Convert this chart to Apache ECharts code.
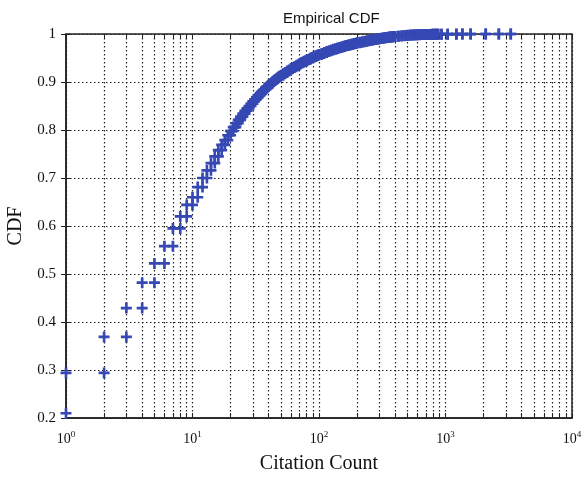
<!DOCTYPE html>
<html>
<head>
<meta charset="utf-8">
<script src="https://cdn.jsdelivr.net/npm/echarts@6/dist/echarts.min.js"></script>
<style>
  html, body { margin: 0; padding: 0; background: #fff; }
  #main { width: 585px; height: 481px; }
</style>
</head>
<body>
<div id="main"></div>
<script>
// citation counts where the empirical CDF steps, and the CDF value after each step
const cdfStart = 0.21   // share of papers with 0 citations
const counts = [
  1, 2, 3, 4, 5, 6, 7, 8, 9, 10,
  11, 12, 13, 14, 15, 16, 17, 18, 19, 20,
  21, 22, 23, 24, 25, 26, 27, 28, 29, 30,
  31, 32, 33, 34, 35, 36, 37, 38, 39, 40,
  41, 42, 43, 44, 45, 46, 47, 48, 49, 50,
  52, 54, 56, 58, 60, 62, 64, 66, 68, 70,
  72, 74, 76, 78, 80, 82, 84, 86, 88, 90,
  92, 94, 96, 98, 100,
  105, 110, 115, 120, 125, 130, 135, 140, 145, 150,
  155, 160, 165, 170, 175, 180, 185, 190, 195, 200,
  210, 220, 230, 240, 250, 260, 270, 280, 290, 300,
  310, 320, 330, 340, 350, 360, 370, 380, 390, 400,
  425, 450, 475, 500, 525, 550, 575, 600, 625, 650,
  675, 700, 725, 750, 775, 800, 825, 850, 875,
  930, 1040, 1220, 1360, 1580, 2080, 2640, 3280
]
const cdf = [
  0.294, 0.369, 0.429, 0.482, 0.522, 0.558, 0.595, 0.620, 0.644, 0.660,
  0.681, 0.700, 0.716, 0.731, 0.745, 0.758, 0.769, 0.779, 0.789, 0.798,
  0.806, 0.814, 0.821, 0.828, 0.834, 0.840, 0.845, 0.850, 0.855, 0.860,
  0.864, 0.868, 0.872, 0.875, 0.879, 0.882, 0.885, 0.888, 0.891, 0.894,
  0.896, 0.898, 0.901, 0.903, 0.905, 0.907, 0.909, 0.911, 0.912, 0.914,
  0.917, 0.920, 0.923, 0.925, 0.928, 0.930, 0.932, 0.934, 0.936, 0.938,
  0.940, 0.941, 0.943, 0.944, 0.946, 0.947, 0.948, 0.950, 0.951, 0.952,
  0.953, 0.954, 0.955, 0.956, 0.9575,
  0.9595, 0.9614, 0.9633, 0.9650, 0.9667, 0.9681, 0.9694, 0.9707, 0.9719, 0.9731,
  0.9742, 0.9753, 0.9761, 0.9770, 0.9778, 0.9786, 0.9794, 0.9801, 0.9808, 0.9816,
  0.9827, 0.9838, 0.9849, 0.9859, 0.9869, 0.9877, 0.9884, 0.9891, 0.9898, 0.9905,
  0.9911, 0.9917, 0.9921, 0.9926, 0.9930, 0.9935, 0.9939, 0.9943, 0.9947, 0.9950,
  0.9957, 0.9963, 0.9969, 0.9975, 0.9977, 0.9980, 0.9982, 0.9984, 0.9987, 0.9988,
  0.9989, 0.9990, 0.9991, 0.9992, 0.9993, 0.9994, 0.9995, 0.9995, 0.9996,
  0.9996, 0.9997, 0.9998, 0.9998, 0.9999, 0.9999, 1, 1
]
const yTicks = [0.2, 0.3, 0.4, 0.5, 0.6, 0.7, 0.8, 0.9, 1]
const decades = [1, 10, 100, 1000, 10000]
const gridSteps = [1, 2, 3, 4, 5, 6, 7, 8, 9]

// stairs vertices: each step shows up at its count, before and after the jump
const points = []
counts.forEach((c, i) => {
  points.push([c, i === 0 ? cdfStart : cdf[i - 1]])
  points.push([c, cdf[i]])
})

// log positions of the 1..9 x 10^d grid lines, used on an overlay value axis
const gridPos = []
decades.slice(0, -1).forEach(d => {
  gridSteps.forEach(k => gridPos.push(Math.log10(k * d)))
})
gridPos.push(Math.log10(decades[decades.length - 1]))

const serif = '"Liberation Serif", "DejaVu Serif", serif'
const dotted = { color: '#222', width: 1.2, type: [1.5, 2.5] }
const plus = 'path://M3.8,0H6.2V3.8H10V6.2H6.2V10H3.8V6.2H0V3.8H3.8Z'

const chart = echarts.init(document.getElementById('main'))
chart.setOption({
  animation: false,
  title: {
    text: 'Empirical CDF',
    left: 278,
    top: 6,
    textStyle: { fontFamily: '"Liberation Sans", Arial, sans-serif', fontSize: 15, fontWeight: 'normal', color: '#111' }
  },
  grid: {
    left: 66, right: 13, top: 34, bottom: 63,
    containLabel: false,
    outerBoundsMode: 'none',
    show: true, borderColor: '#222', borderWidth: 1.5, backgroundColor: '#fff'
  },
  xAxis: [{
    type: 'log',
    logBase: 10,
    min: decades[0],
    max: decades[decades.length - 1],
    name: 'Citation Count',
    nameLocation: 'middle',
    nameGap: 36,
    nameTextStyle: { fontFamily: serif, fontSize: 20, color: '#111' },
    axisLine: { show: true, lineStyle: { color: '#222', width: 1.5 } },
    axisTick: { show: false },
    splitLine: { show: false },
    axisLabel: {
      margin: 12,
      formatter: v => '{b|10}{s|' + Math.round(Math.log10(v)) + '}',
      rich: {
        b: { fontFamily: serif, fontSize: 14, color: '#111', lineHeight: 18 },
        s: { fontFamily: serif, fontSize: 9, color: '#111', lineHeight: 10, verticalAlign: 'top' }
      }
    }
  }, {
    type: 'value',
    min: 0, max: 4,
    position: 'bottom',
    axisLine: { show: false },
    axisLabel: { show: false },
    axisTick: { show: true, inside: true, length: 5, customValues: gridPos, lineStyle: { color: '#222', width: 1 } },
    splitLine: { show: true, lineStyle: dotted }
  }, {
    type: 'value',
    min: 0, max: 4,
    position: 'top',
    axisLine: { show: false },
    axisLabel: { show: false },
    axisTick: { show: true, inside: true, length: 5, customValues: gridPos, lineStyle: { color: '#222', width: 1 } },
    splitLine: { show: false }
  }],
  yAxis: [{
    type: 'value',
    min: yTicks[0],
    max: yTicks[yTicks.length - 1],
    interval: 0.1,
    name: 'CDF',
    nameLocation: 'middle',
    nameGap: 40,
    nameTextStyle: { fontFamily: serif, fontSize: 20, color: '#111' },
    axisLine: { show: true, lineStyle: { color: '#222', width: 1.5 } },
    axisTick: { show: true, inside: true, length: 5, lineStyle: { color: '#222' } },
    splitLine: { show: true, lineStyle: dotted },
    axisLabel: {
      margin: 10,
      fontFamily: serif, fontSize: 15, color: '#111',
      formatter: v => (Math.abs(v - 1) < 1e-9 ? '1' : v.toFixed(1))
    }
  }, {
    type: 'value',
    min: yTicks[0],
    max: yTicks[yTicks.length - 1],
    interval: 0.1,
    position: 'right',
    axisLine: { show: false },
    axisLabel: { show: false },
    axisTick: { show: true, inside: true, length: 5, lineStyle: { color: '#222' } },
    splitLine: { show: false }
  }],
  series: [{
    type: 'scatter',
    xAxisIndex: 0,
    yAxisIndex: 0,
    data: points,
    symbol: plus,
    symbolSize: 11,
    clip: false,
    itemStyle: { color: '#3548b4', opacity: 1 },
    z: 5
  }]
})
</script>
</body>
</html>
